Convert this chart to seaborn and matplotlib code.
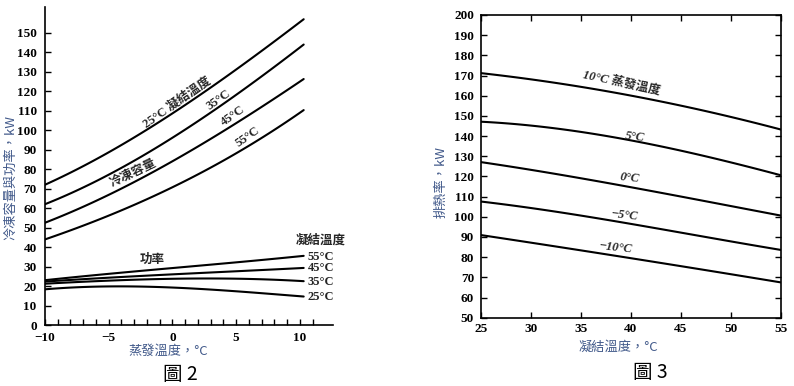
import numpy as np
import pandas as pd
import matplotlib
matplotlib.use("Agg")
import matplotlib.pyplot as plt
import seaborn as sns

# ---------------- data: 圖 2 ----------------
evap_x = [-10, -5, 0, 5, 10.3]
cond_temps = ["25°C", "35°C", "45°C", "55°C"]
cap_25 = [72, 88.8, 108.5, 131.3, 157]
cap_35 = [62, 77.3, 96, 118.3, 144]
cap_45 = [52.5, 66.9, 84, 103.7, 126.3]
cap_55 = [44, 56, 71, 88, 110.4]
pow_25 = [18.3, 19.9, 19.1, 17.4, 14.6]
pow_35 = [21.2, 22.8, 23.7, 23.8, 22.5]
pow_45 = [22.3, 24.3, 26.0, 27.6, 29.3]
pow_55 = [23.0, 26.3, 29.2, 32.2, 35.5]

# ---------------- data: 圖 3 ----------------
cond_x = [25, 30, 35, 40, 45, 50, 55]
evap_temps = ["10°C", "5°C", "0°C", "−5°C", "−10°C"]
rej_10 = [171, 168.5, 164.5, 159.5, 155, 150, 143]
rej_5 = [147, 145.5, 142, 137.5, 133, 127, 120.5]
rej_0 = [127, 123.5, 119, 114.5, 110, 105.5, 100.5]
rej_m5 = [107.5, 104.5, 100.5, 96.5, 92, 88, 83.5]
rej_m10 = [91, 87, 83.5, 79.5, 75.5, 71.5, 67.5]

left_yticks = list(range(0, 151, 10))
left_xticks = [-10, -5, 0, 5, 10]
right_yticks = list(range(50, 201, 10))
right_xticks = list(range(25, 56, 5))

sns.set_theme(style="ticks")
SERIF = ["Liberation Serif", "Noto Sans CJK TC"]
CJK = ["Noto Sans CJK TC", "DejaVu Sans"]
plt.rcParams["font.family"] = SERIF
plt.rcParams["axes.unicode_minus"] = False
LABEL_COLOR = "#41598a"
TICK_FS = 9.5

W, H = 794, 386
fig = plt.figure(figsize=(W / 100, H / 100), dpi=100)

def ax_rect(x0, x1, ytop, ybot):
    return [x0 / W, 1 - ybot / H, (x1 - x0) / W, (ybot - ytop) / H]

# ---------------- left panel ----------------
axL = fig.add_axes(ax_rect(45, 333, 7, 325))
rows = []
for name, cap, pw in zip(cond_temps, [cap_25, cap_35, cap_45, cap_55],
                         [pow_25, pow_35, pow_45, pow_55]):
    for x, c, p in zip(evap_x, cap, pw):
        rows.append({"x": x, "y": c, "s": "cap" + name})
        rows.append({"x": x, "y": p, "s": "pow" + name})
dfL = pd.DataFrame(rows)
dense = []
for s, g in dfL.groupby("s"):
    xs = g["x"].values
    ys = g["y"].values
    coef = np.polyfit(xs, ys, 3)
    xx = np.linspace(xs.min(), xs.max(), 60)
    for a, b in zip(xx, np.polyval(coef, xx)):
        dense.append({"x": a, "y": b, "s": s})
dfLd = pd.DataFrame(dense)
sns.lineplot(data=dfLd, x="x", y="y", hue="s", palette=["black"] * dfLd["s"].nunique(),
             legend=False, ax=axL, linewidth=1.5, estimator=None, sort=True)
axL.set_xlim(-10, 12.6)
axL.set_ylim(0, 163.3)
axL.set_xticks(left_xticks)
axL.set_xticks(np.arange(-10, 12, 1), minor=True)
axL.set_yticks(left_yticks)
axL.set_xticklabels(["−10", "−5", "0", "5", "10"])
for sp in ["top", "right"]:
    axL.spines[sp].set_visible(False)
for sp in ["left", "bottom"]:
    axL.spines[sp].set_linewidth(1.2)
    axL.spines[sp].set_color("black")
axL.tick_params(axis="both", which="both", direction="in", length=4, width=1, colors="black")
axL.tick_params(axis="x", labelsize=TICK_FS, pad=5)
axL.tick_params(axis="y", labelsize=TICK_FS, pad=6)
for t in axL.get_xticklabels() + axL.get_yticklabels():
    t.set_fontweight("bold")
axL.set_xlabel("")
axL.set_ylabel("")

tk = dict(fontsize=9, fontweight="bold", family=SERIF, ha="center", va="center")
axL.text(0.35, 114.5, "25°C 凝結溫度", rotation=35, **tk)
axL.text(3.65, 115.5, "35°C", rotation=35, **tk)
axL.text(4.75, 107.5, "45°C", rotation=35, **tk)
axL.text(5.9, 96.5, "55°C", rotation=35, **tk)
axL.text(-3.1, 78, "冷凍容量", rotation=26, **tk)
axL.text(-1.6, 33.5, "功率", rotation=0, **tk)
axL.text(11.65, 43.6, "凝結溫度", rotation=0, **tk)
for lab, yv in zip(["55°C", "45°C", "35°C", "25°C"], [35, 29.1, 22.2, 14.2]):
    axL.text(10.6, yv, lab, rotation=0, fontsize=9, fontweight="bold",
             family=SERIF, ha="left", va="center")

# ---------------- right panel ----------------
axR = fig.add_axes(ax_rect(481, 781, 15, 317.7))
rowsR = []
for name, vals in zip(evap_temps, [rej_10, rej_5, rej_0, rej_m5, rej_m10]):
    coef = np.polyfit(cond_x, vals, 3)
    xx = np.linspace(25, 55, 60)
    for a, b in zip(xx, np.polyval(coef, xx)):
        rowsR.append({"x": a, "y": b, "s": name})
dfR = pd.DataFrame(rowsR)
sns.lineplot(data=dfR, x="x", y="y", hue="s", palette=["black"] * len(evap_temps),
             legend=False, ax=axR, linewidth=1.5, estimator=None, sort=True)
axR.set_xlim(25, 55)
axR.set_ylim(50, 200)
axR.set_xticks(right_xticks)
axR.set_yticks(right_yticks)
for sp in axR.spines.values():
    sp.set_linewidth(1.2)
    sp.set_color("black")
axR.tick_params(axis="both", which="both", direction="in", length=4, width=1,
                colors="black", top=True, right=True)
axR.tick_params(axis="x", labelsize=TICK_FS, pad=4)
axR.tick_params(axis="y", labelsize=TICK_FS, pad=5)
for t in axR.get_xticklabels() + axR.get_yticklabels():
    t.set_fontweight("bold")
axR.set_xlabel("")
axR.set_ylabel("")

rk = dict(fontsize=9, fontweight="bold", style="italic", family=SERIF,
          ha="center", va="center")
axR.text(39.1, 166.3, "10°C 蒸發溫度", rotation=-12, **rk)
axR.text(40.4, 139.7, "5°C", rotation=-6, **rk)
axR.text(39.9, 119.1, "0°C", rotation=-6, **rk)
axR.text(39.3, 100.9, "−5°C", rotation=-6, **rk)
axR.text(38.4, 84.7, "−10°C", rotation=-6, **rk)

# ---------------- axis labels and captions ----------------
lk = dict(fontsize=9.5, color=LABEL_COLOR, family=CJK, ha="center", va="center")
fig.text(11 / W, 1 - 177 / H, "冷凍容量與功率，kW", rotation=90, **lk)
fig.text(168 / W, 1 - 351 / H, "蒸發溫度，°C", **lk)
fig.text(441 / W, 1 - 182 / H, "排熱率，kW", rotation=90, **lk)
fig.text(618 / W, 1 - 347 / H, "凝結溫度，°C", **lk)
ck = dict(fontsize=14, color="black", family=["Noto Sans CJK TC", "DejaVu Sans"],
          ha="center", va="center")
fig.text(180 / W, 1 - 374 / H, "圖 2", **ck)
fig.text(650 / W, 1 - 373 / H, "圖 3", **ck)

fig.savefig("out.png", dpi=100)
